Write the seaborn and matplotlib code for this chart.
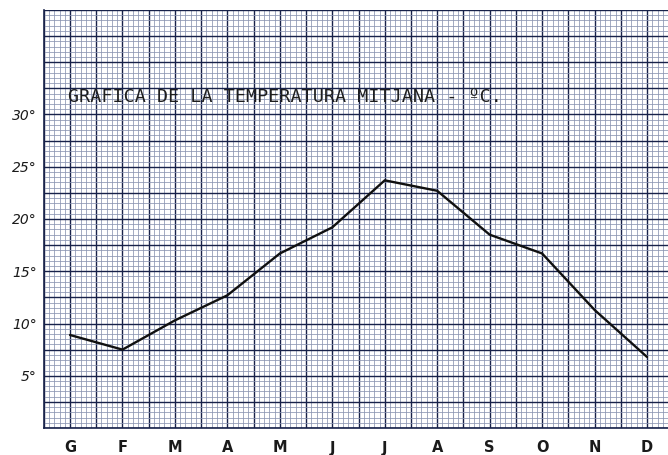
import numpy as np
import pandas as pd
import matplotlib
matplotlib.use("Agg")
import matplotlib.pyplot as plt
from matplotlib.ticker import MultipleLocator
import seaborn as sns


# mean monthly temperature

months = ['G', 'F', 'M', 'A', 'M', 'J', 'J', 'A', 'S', 'O', 'N', 'D']
temps = [8.9, 7.5, 10.3, 12.7, 16.7, 19.2, 23.7, 22.7, 18.5, 16.7, 11.3, 6.8]
y_labels = [5, 10, 15, 20, 25, 30]
title = u"GRAFICA DE LA TEMPERATURA MITJANA - \u00baC."


sns.set_style("white")

data = pd.DataFrame({'month_idx': np.arange(len(months)), 'temp': temps})

fig = plt.figure(figsize=(6.68, 4.55), dpi=100)
ax = fig.add_axes([43.8/668, 27/455, (668-43.8)/668, (428-10)/455])

sns.lineplot(x='month_idx', y='temp', data=data, ax=ax, color='#101010', linewidth=1.7, zorder=5)

ax.set_xlim(-0.5, 11.4)
ax.set_ylim(0, 40)

# graph paper: heavy lines every half month / 2.5 degrees, fine lines in between
xmaj = np.arange(-0.5, 11.5, 0.5)
ax.set_xticks(xmaj)
ax.set_xticklabels([months[int(v)] if float(v).is_integer() and 0 <= v < len(months) else '' for v in xmaj])
ymaj = np.arange(0, 40.1, 2.5)
ax.set_yticks(ymaj)
ax.set_yticklabels([u'%d\u00b0' % v if v in y_labels else '' for v in ymaj])
ax.xaxis.set_minor_locator(MultipleLocator(0.1))
ax.yaxis.set_minor_locator(MultipleLocator(0.5))

ax.grid(which='minor', color='#8a94b2', linewidth=0.55)
ax.grid(which='major', color='#18224a', linewidth=1.0)
ax.set_axisbelow(True)

ax.tick_params(which='both', length=0)
ax.tick_params(axis='x', pad=9, labelsize=10.5, labelcolor='#1a1a1a')
ax.tick_params(axis='y', pad=5, labelsize=10, labelcolor='#1a1a1a')
for lab in ax.get_xticklabels():
    lab.set_fontweight('bold')
for lab in ax.get_yticklabels():
    lab.set_fontstyle('italic')

for side in ['top', 'right']:
    ax.spines[side].set_visible(False)
for side in ['left', 'bottom']:
    ax.spines[side].set_color('#18224a')
    ax.spines[side].set_linewidth(1.2)

ax.set_xlabel('')
ax.set_ylabel('')

ax.text(-0.04, 31.7, title, family='DejaVu Sans Mono', fontsize=13.2,
        color='#1e1e1e', va='center', ha='left', zorder=6)

fig.savefig('out.png', dpi=100)
